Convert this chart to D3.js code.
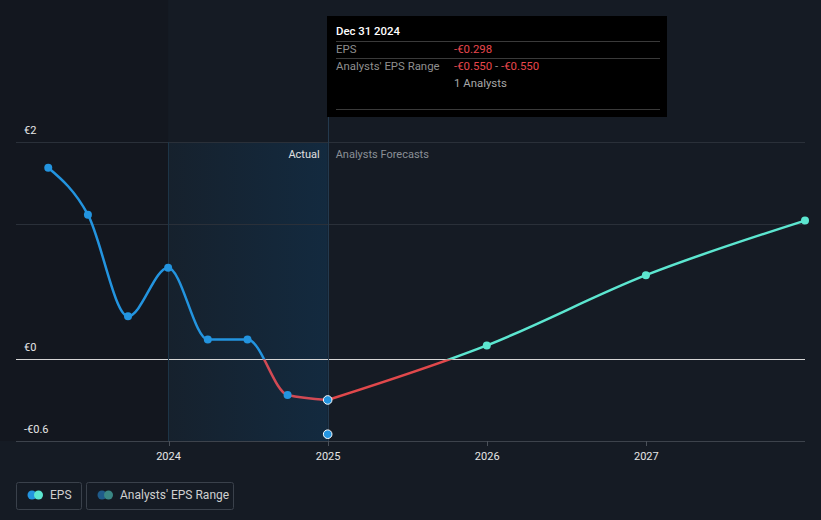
<!DOCTYPE html>
<html><head><meta charset="utf-8">
<script src="https://cdn.jsdelivr.net/npm/d3@7/dist/d3.min.js"></script>
<style>
html,body{margin:0;padding:0;background:#151b24;}
svg{display:block;font-family:Roboto,"Noto Sans",sans-serif;}
</style></head>
<body>
<svg id="c" width="821" height="520"></svg>
<script>
// ---- data ----
const actualDates = ["2023-03-31","2023-06-30","2023-09-30","2023-12-31","2024-03-31","2024-06-30","2024-09-30","2024-12-31"];
const actualEps = [1.41, 1.065, 0.318, 0.675, 0.147, 0.147, -0.262, -0.298];
const forecastDates = ["2024-12-31","2025-12-31","2026-12-31","2027-12-31"];
const forecastEps = [-0.298, 0.103, 0.62, 1.022];
const rangeDates = ["2024-12-31"];
const rangeLow = [-0.55];
const rangeHigh = [-0.55];
const yTickValues = [1.6, 1, 0, -0.6];
const yTickLabels = ["€2", "", "€0", "-€0.6"];
const xTickYears = [2024, 2025, 2026, 2027];
const tooltipTitle = "Dec 31 2024";
const tooltipEps = "-€0.298";
const tooltipRangeLow = "-€0.550";
const tooltipRangeHigh = "-€0.550";
const tooltipAnalysts = "1 Analysts";

(function(){
const parse = d3.timeParse("%Y-%m-%d");
const svg = d3.select("#c");
const W = 821, H = 520;
const pL = 16, pR = 805, pT = 142, pB = 441;

const x = d3.scaleTime().domain([parse("2023-01-16"), parse("2027-12-31")]).range([pL, pR]);
const y = d3.scaleLinear().domain([-0.6, 1.6]).range([pB, pT]);

const defs = svg.append("defs");
const g1 = defs.append("linearGradient").attr("id","actGrad").attr("x1","0").attr("x2","1").attr("y1","0").attr("y2","0");
g1.append("stop").attr("offset","0").attr("stop-color","#16212d");
g1.append("stop").attr("offset","1").attr("stop-color","#132a3f");

const lastActual = parse(actualDates[actualDates.length-1]);
const yearStart = parse("2023-12-31");

// darker past background
svg.append("rect").attr("x",0).attr("y",0).attr("width",x(yearStart)).attr("height",pB)
  .attr("fill","#13171f");
// actual (last year) shaded band
svg.append("rect").attr("x",x(yearStart)).attr("y",pT).attr("width",x(lastActual)-x(yearStart)).attr("height",pB-pT)
  .attr("fill","url(#actGrad)");

// gridlines
svg.append("g").selectAll("line").data(yTickValues).join("line")
  .attr("x1",pL).attr("x2",pR)
  .attr("y1",d=>Math.round(y(d))+0.5).attr("y2",d=>Math.round(y(d))+0.5)
  .attr("stroke",d=>d===0?"#d6d6d6":(d===-0.6?"#3d434c":"#2a3039"))
  .attr("stroke-width",1);

// y labels
svg.append("g").selectAll("text").data(yTickValues.map((v,i)=>({v,l:yTickLabels[i]}))).join("text")
  .attr("x",24).attr("y",d=>y(d.v)-8)
  .attr("fill","#e6e6e6").attr("font-size",11).text(d=>d.l);

// vertical lines
svg.append("line").attr("x1",Math.round(x(yearStart))+0.5).attr("x2",Math.round(x(yearStart))+0.5)
  .attr("y1",pT).attr("y2",pB).attr("stroke","#1d3547").attr("stroke-width",1);
svg.append("line").attr("x1",Math.round(x(lastActual))+0.5).attr("x2",Math.round(x(lastActual))+0.5)
  .attr("y1",117).attr("y2",pB).attr("stroke","#243a4e").attr("stroke-width",1);

// x axis ticks and labels
const xt = xTickYears.map(yr=>new Date(yr,0,1));
svg.append("g").selectAll("line").data(xt).join("line")
  .attr("x1",d=>Math.round(x(d))+0.5).attr("x2",d=>Math.round(x(d))+0.5)
  .attr("y1",pB).attr("y2",pB+5).attr("stroke","#4a5059");
svg.append("g").selectAll("text").data(xt).join("text")
  .attr("x",d=>x(d)).attr("y",pB+19).attr("text-anchor","middle")
  .attr("fill","#e6e6e6").attr("font-size",11).text(d=>d.getFullYear());

// Actual / Analysts Forecasts labels
svg.append("text").attr("x",x(lastActual)-8).attr("y",158).attr("text-anchor","end")
  .attr("fill","#e0e0e0").attr("font-size",11).text("Actual");
svg.append("text").attr("x",x(lastActual)+8).attr("y",158)
  .attr("fill","#8a8f96").attr("font-size",11).text("Analysts Forecasts");

// clip paths
defs.append("clipPath").attr("id","above").append("rect").attr("x",0).attr("y",0).attr("width",W).attr("height",y(0));
defs.append("clipPath").attr("id","below").append("rect").attr("x",0).attr("y",y(0)).attr("width",W).attr("height",H-y(0));

const line = d3.line().x(d=>x(d.date)).y(d=>y(d.v)).curve(d3.curveMonotoneX);
const actual = actualDates.map((d,i)=>({date:parse(d),v:actualEps[i]}));
const forecast = forecastDates.map((d,i)=>({date:parse(d),v:forecastEps[i]}));

const BLUE="#2394df", RED="#e0484b", TEAL="#5ce6d0";
svg.append("path").attr("d",line(actual)).attr("fill","none").attr("stroke",BLUE).attr("stroke-width",2.5).attr("clip-path","url(#above)");
svg.append("path").attr("d",line(actual)).attr("fill","none").attr("stroke","#d24a54").attr("stroke-width",2.5).attr("clip-path","url(#below)");
svg.append("path").attr("d",line(forecast)).attr("fill","none").attr("stroke",TEAL).attr("stroke-width",2.5).attr("clip-path","url(#above)");
svg.append("path").attr("d",line(forecast)).attr("fill","none").attr("stroke",RED).attr("stroke-width",2.5).attr("clip-path","url(#below)");

// forecast dots
svg.append("g").selectAll("circle").data(forecast.slice(1)).join("circle")
  .attr("cx",d=>x(d.date)).attr("cy",d=>y(d.v)).attr("r",4).attr("fill",TEAL);
// actual dots
svg.append("g").selectAll("circle").data(actual.slice(0,-1)).join("circle")
  .attr("cx",d=>x(d.date)).attr("cy",d=>y(d.v)).attr("r",4).attr("fill",BLUE);
// highlighted point + range point
const hl = actual[actual.length-1];
const rangePts = rangeDates.map((d,i)=>({date:parse(d),v:rangeLow[i]}));
svg.append("g").selectAll("circle").data([hl].concat(rangePts)).join("circle")
  .attr("cx",d=>x(d.date)).attr("cy",d=>y(d.v)).attr("r",4.3).attr("fill",BLUE)
  .attr("stroke","#ffffff").attr("stroke-width",1);

// tooltip
const tx = Math.round(x(lastActual));
const tip = svg.append("g");
const fs = 11.4;
tip.append("rect").attr("x",tx-1).attr("y",16).attr("width",340).attr("height",101).attr("fill","#000");
tip.append("text").attr("x",tx+8).attr("y",35).attr("fill","#fff").attr("font-size",fs).attr("font-weight",500).text(tooltipTitle);
[41.5,58.5,109.5].forEach(yy=>tip.append("line").attr("x1",tx+8).attr("x2",tx+332).attr("y1",yy).attr("y2",yy).attr("stroke","#3a3a3a"));
tip.append("text").attr("x",tx+8).attr("y",53).attr("fill","#8f8f8f").attr("font-size",fs).text("EPS");
tip.append("text").attr("x",tx+126).attr("y",53).attr("fill","#e8474c").attr("font-size",fs).text(tooltipEps);
tip.append("text").attr("x",tx+8).attr("y",70).attr("fill","#8f8f8f").attr("font-size",fs).text("Analysts' EPS Range");
const rt = tip.append("text").attr("x",tx+126).attr("y",70).attr("font-size",fs);
rt.append("tspan").attr("fill","#e8474c").text(tooltipRangeLow);
rt.append("tspan").attr("fill","#8f8f8f").text(" - ");
rt.append("tspan").attr("fill","#e8474c").text(tooltipRangeHigh);
tip.append("text").attr("x",tx+126).attr("y",87).attr("fill","#a8a8a8").attr("font-size",fs).text(tooltipAnalysts);

// legend
const leg = svg.append("g");
leg.append("rect").attr("x",16.5).attr("y",482.5).attr("width",65).attr("height",27).attr("rx",2).attr("fill","none").attr("stroke","#3a414b");
leg.append("circle").attr("cx",32).attr("cy",495).attr("r",4.5).attr("fill",BLUE);
leg.append("circle").attr("cx",38.5).attr("cy",495).attr("r",4.5).attr("fill",TEAL);
leg.append("text").attr("x",50).attr("y",499).attr("fill","#d0d0d0").attr("font-size",12).text("EPS");
leg.append("rect").attr("x",86.5).attr("y",482.5).attr("width",147).attr("height",27).attr("rx",2).attr("fill","none").attr("stroke","#3a414b");
leg.append("circle").attr("cx",102).attr("cy",495).attr("r",4.5).attr("fill","#1f5b8a");
leg.append("circle").attr("cx",108.5).attr("cy",495).attr("r",4.5).attr("fill","#3a8784");
leg.append("text").attr("x",120).attr("y",499).attr("fill","#d0d0d0").attr("font-size",12).text("Analysts' EPS Range");
})();
</script>
</body></html>
